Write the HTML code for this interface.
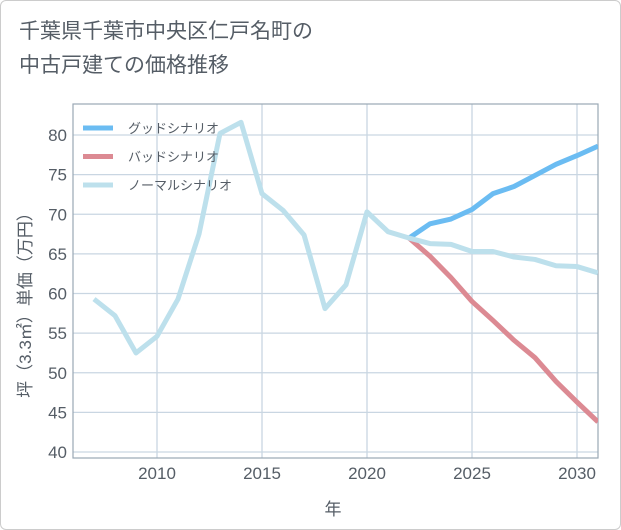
<!DOCTYPE html>
<html><head><meta charset="utf-8"><style>
body{margin:0;background:#fff;}
#w{position:relative;width:619px;height:528px;border:1px solid #ccc;border-radius:6px;background:#fff;overflow:hidden;font-family:"Liberation Sans","Noto Sans CJK JP",sans-serif;}
#title{position:absolute;left:18px;top:14px;font-size:21px;line-height:34px;color:#555d66;}
</style></head><body>
<div id="w">
<div id="title">千葉県千葉市中央区仁戸名町の<br>中古戸建ての価格推移</div>
<svg id="c" width="621" height="530" style="position:absolute;left:0;top:0"></svg>
</div>
<script>
const years=[2007,2008,2009,2010,2011,2012,2013,2014,2015,2016,2017,2018,2019,2020,2021,2022,2023,2024,2025,2026,2027,2028,2029,2030,2031];
const normal=[59.3,57.2,52.5,54.6,59.3,67.5,80.2,81.6,72.6,70.5,67.4,58.1,61.1,70.3,67.8,67.0,66.3,66.2,65.3,65.3,64.6,64.3,63.5,63.4,62.6];
const goodYears=[2022,2023,2024,2025,2026,2027,2028,2029,2030,2031];
const good=[67.0,68.8,69.4,70.6,72.6,73.5,74.9,76.3,77.4,78.6];
const bad=[67.0,64.7,62.0,59.0,56.6,54.1,51.9,48.9,46.3,43.8];
const yTicks=[40,45,50,55,60,65,70,75,80];
const xTicks=[2010,2015,2020,2025,2030];
const L=72,R=597,T=103,B=457;
const xs=y=>156+(y-2010)*21;
const ys=v=>134+(80-v)*7.925;
const svg=document.getElementById('c');
const NS='http://www.w3.org/2000/svg';
function mk(t,a,p){const e=document.createElementNS(NS,t);for(const k in a)e.setAttribute(k,a[k]);(p||svg).appendChild(e);return e;}
for(const v of yTicks){
 const l=mk('line',{x1:L,x2:R,y1:ys(v),y2:ys(v),stroke:'#c9d6e2','stroke-width':1.3});
 
 
 const t=mk('text',{x:L-6,y:ys(v)+6,'text-anchor':'end','font-size':17,fill:'#555d66'});t.textContent=v;
 
 
}
for(const y of xTicks){
 const l=mk('line',{x1:xs(y),x2:xs(y),y1:T,y2:B,stroke:'#c9d6e2','stroke-width':1.3});
 
 
 const t=mk('text',{x:xs(y),y:478,'text-anchor':'middle','font-size':17,fill:'#555d66'});t.textContent=y;
 
 
}
const fr=mk('rect',{x:L,y:T,width:R-L,height:B-T,fill:'none',stroke:'#9aa8b5','stroke-width':1.2});


const cp=mk('clipPath',{id:'cp'});mk('rect',{x:L,y:T,width:R-L,height:B-T},cp);
function line(xv,yv,col,name){
 const p=mk('polyline',{points:xv.map((x,i)=>xs(x)+','+ys(yv[i])).join(' '),fill:'none',stroke:col,'stroke-width':5,'stroke-linejoin':'round','clip-path':'url(#cp)'});
 
 
}
line(goodYears,good,'#6bbcf2','good-scenario-line');
line(goodYears,bad,'#dc8a93','bad-scenario-line');
line(years,normal,'#bde0ec','normal-scenario-line');
const leg=[['グッドシナリオ','#6bbcf2'],['バッドシナリオ','#dc8a93'],['ノーマルシナリオ','#bde0ec']];
leg.forEach((d,i)=>{
 const y=127+i*28.5;
 const l=mk('line',{x1:82,x2:112,y1:y,y2:y,stroke:d[1],'stroke-width':5});
 
 
 const t=mk('text',{x:127,y:y+5,'font-size':13,fill:'#555d66'});t.textContent=d[0];
 
 
});
const xt=mk('text',{x:332,y:514,'text-anchor':'middle','font-size':17,fill:'#555d66'});xt.textContent='年';


const yt=mk('text',{x:0,y:0,'text-anchor':'middle','font-size':17,fill:'#555d66',transform:'translate(30,300) rotate(-90)'});yt.textContent='坪（3.3㎡）単価（万円）';


</script>
</body></html>
